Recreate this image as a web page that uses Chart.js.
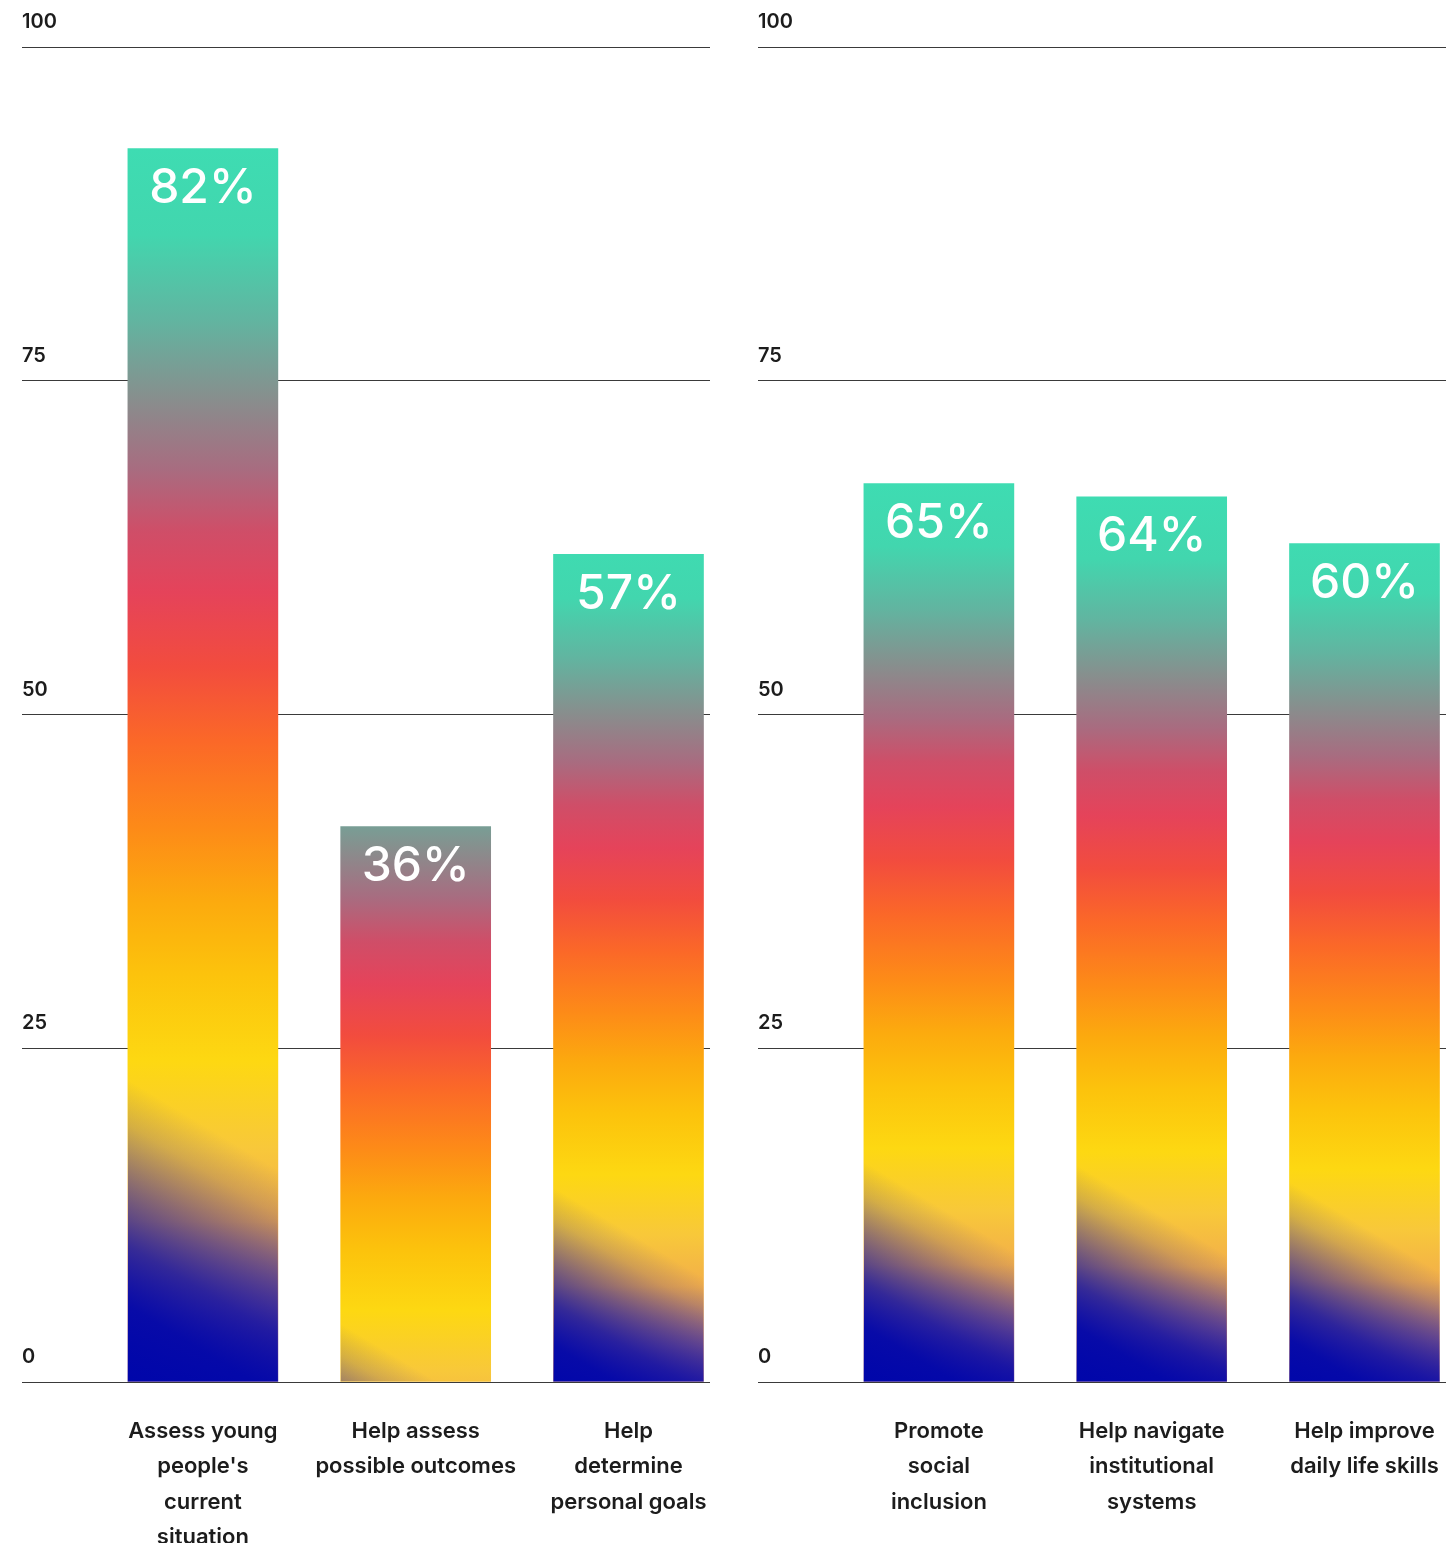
<!DOCTYPE html>
<html>
<head>
<meta charset="utf-8">
<script src="https://cdn.jsdelivr.net/npm/chart.js@4.4.1/dist/chart.umd.min.js"></script>
<style>
    html, body { margin: 0; padding: 0; background: #fff; }
    #wrap { position: relative; width: 1455px; height: 1543px; }
    .panel { position: absolute; top: 0; width: 719px; height: 1543px; }
</style>
</head>
<body>
<div id="wrap">
    <div class="panel" style="left:0"><canvas id="leftChart"></canvas></div>
    <div class="panel" style="left:736px"><canvas id="rightChart"></canvas></div>
</div>
<script>
// Data
const yTicks = [0, 25, 50, 75, 100];
const slots = [1, 2, 3];

const leftCategories = [
    ['Assess young', "people's", 'current', 'situation'],
    ['Help assess', 'possible outcomes'],
    ['Help', 'determine', 'personal goals']
];
const leftPercent = ['82%', '36%', '57%'];
const leftBars = [92.4, 41.6, 62.0]; // drawn bar heights (axis units)

const rightCategories = [
    ['Promote', 'social', 'inclusion'],
    ['Help navigate', 'institutional', 'systems'],
    ['Help improve', 'daily life skills']
];
const rightPercent = ['65%', '64%', '60%'];
const rightBars = [67.3, 66.3, 62.8];

// Styling
const FONT = 'Inter';
const TEXT = '#1c1c1c';
const MIN_IMAGE = 860; // bars shorter than this show a cropped gradient

const gradientStops = [
    [0.00, '#3edcb2'],
    [0.07, '#42d6ae'],
    [0.14, '#62b4a0'],
    [0.20, '#86908e'],
    [0.26, '#a86c80'],
    [0.31, '#cf4e68'],
    [0.36, '#e5435a'],
    [0.42, '#f24c3e'],
    [0.48, '#fb6828'],
    [0.55, '#fd8a18'],
    [0.61, '#fcaa0e'],
    [0.67, '#fcc30c'],
    [0.74, '#fdd812'],
    [0.81, '#f8c83a'],
    [0.87, '#f2ae4a'],
    [0.94, '#a06c80'],
    [1.00, '#4a2c98']
];
const blueStops = [
    [0.00, 1],
    [0.25, 0.95],
    [0.45, 0.75],
    [0.65, 0.45],
    [0.85, 0.15],
    [1.00, 0]
];

Chart.defaults.font.family = FONT;

function imageSpan(top, base) {
    const h = base - top;
    const len = Math.max(h, MIN_IMAGE);
    const mid = (top + base) / 2;
    return { top: mid - len / 2, bottom: mid + len / 2, len: len };
}

function barFill(ctx) {
    const chart = ctx.chart;
    const y = chart.scales.y;
    if (!y || ctx.type !== 'data' || !chart.chartArea) return '#fdd812';
    const top = y.getPixelForValue(ctx.raw.y);
    const base = y.getPixelForValue(0);
    if (!isFinite(top) || !isFinite(base)) return '#fdd812';
    const span = imageSpan(top, base);
    const grad = chart.ctx.createLinearGradient(0, span.top, 0, span.bottom);
    gradientStops.forEach(s => grad.addColorStop(s[0], s[1]));
    return grad;
}

// blue glow at the foot of each bar + white percentage label
const barOverlay = {
    id: 'barOverlay',
    afterDatasetsDraw(chart, args, opts) {
        const ctx = chart.ctx;
        const meta = chart.getDatasetMeta(0);
        meta.data.forEach((bar, i) => {
            const p = bar.getProps(['x', 'y', 'base', 'width'], true);
            if (![p.x, p.y, p.base, p.width].every(isFinite)) return;
            const left = p.x - p.width / 2;
            const h = p.base - p.y;
            const span = imageSpan(p.y, p.base);
            const len = 0.21 * span.len;
            const nx = 90 / 174.9, ny = -150 / 174.9;

            ctx.save();
            ctx.beginPath();
            ctx.rect(left, p.y, p.width, h);
            ctx.clip();
            const g = ctx.createLinearGradient(left, span.bottom, left + nx * len, span.bottom + ny * len);
            blueStops.forEach(s => g.addColorStop(s[0], 'rgba(0,6,170,' + s[1] + ')'));
            ctx.fillStyle = g;
            ctx.fillRect(left, p.y, p.width, h);
            ctx.restore();

            ctx.save();
            ctx.fillStyle = '#fff';
            ctx.font = '500 48px ' + FONT;
            ctx.textAlign = 'center';
            ctx.textBaseline = 'middle';
            ctx.fillText(opts.labels[i], p.x, p.y + 40);
            ctx.restore();
        });
    }
};

function makeChart(canvasId, categories, bars, percents) {
    const ctx = document.getElementById(canvasId).getContext('2d');
    return new Chart(ctx, {
        type: 'bar',
        data: {
            datasets: [{
                data: slots.map((s, i) => ({ x: s, y: bars[i] })),
                backgroundColor: barFill,
                borderWidth: 0,
                barThickness: 150
            }]
        },
        options: {
            responsive: true,
            maintainAspectRatio: false,
            animation: false,
            layout: { padding: { top: 47, left: 22, right: 9, bottom: 0 } },
            plugins: {
                legend: { display: false },
                tooltip: { enabled: false },
                barOverlay: { labels: percents }
            },
            scales: {
                x: {
                    type: 'linear',
                    offset: false,
                    min: 0.15,
                    max: 3.383,
                    grid: { display: false },
                    border: { display: false },
                    afterBuildTicks: s => { s.ticks = slots.map(v => ({ value: v })); },
                    afterFit: s => { s.height = 161; s.paddingLeft = 0; s.paddingRight = 0; },
                    ticks: {
                        autoSkip: false,
                        maxRotation: 0,
                        padding: 24,
                        color: TEXT,
                        font: { size: 22, weight: '600', lineHeight: 1.6 },
                        callback: (v, i) => categories[i]
                    }
                },
                y: {
                    min: 0,
                    max: 100,
                    afterBuildTicks: s => { s.ticks = yTicks.map(v => ({ value: v })); },
                    afterFit: s => { s.paddingTop = 0; s.paddingBottom = 0; },
                    grid: { color: '#3a3a3a', lineWidth: 1, drawTicks: false },
                    border: { display: false },
                    ticks: {
                        mirror: true,
                        padding: 0,
                        labelOffset: -25,
                        color: TEXT,
                        font: { size: 20, weight: '600' }
                    }
                }
            }
        },
        plugins: [barOverlay]
    });
}

makeChart('leftChart', leftCategories, leftBars, leftPercent);
makeChart('rightChart', rightCategories, rightBars, rightPercent);
</script>
</body>
</html>
